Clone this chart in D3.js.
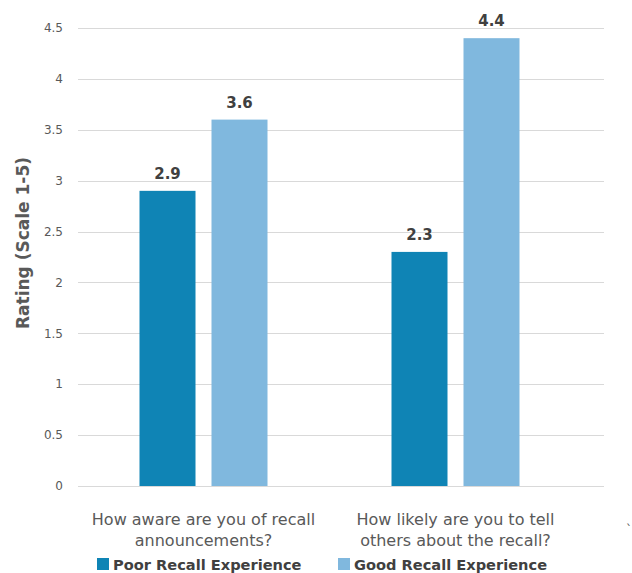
<!DOCTYPE html>
<html>
<head>
<meta charset="utf-8">
<script src="https://cdn.jsdelivr.net/npm/d3@7"></script>
<style>
  html, body { margin: 0; padding: 0; background: #ffffff; }
  svg { display: block; font-family: "DejaVu Sans", Verdana, sans-serif; }
</style>
</head>
<body>
<svg id="chart" width="632" height="573"></svg>
<script>
// Survey questions (two lines each)
const categories = [
  ["How aware are you of recall", "announcements?"],
  ["How likely are you to tell", "others about the recall?"]
];
const seriesNames = ["Poor Recall Experience", "Good Recall Experience"];
const poorValues = [2.9, 2.3];
const goodValues = [3.6, 4.4];
const yTicks = [0, 0.5, 1, 1.5, 2, 2.5, 3, 3.5, 4, 4.5];
const seriesColors = ["#0f84b5", "#80b8de"];

const svg = d3.select("#chart");

const plot = { left: 78, right: 604, top: 28, bottom: 486 };

const y = d3.scaleLinear().domain([0, 4.5]).range([plot.bottom, plot.top]);

const x0 = d3.scaleBand()
  .domain(d3.range(categories.length))
  .range([77.5, 581.5])
  .paddingInner(0)
  .paddingOuter(0);

const x1 = d3.scaleBand()
  .domain(d3.range(seriesNames.length))
  .range([0, 128])
  .paddingInner(16 / 72);

const groupOffset = (x0.bandwidth() - 128) / 2;

// Horizontal gridlines
svg.append("g")
  .selectAll("line")
  .data(yTicks)
  .join("line")
  .attr("x1", plot.left)
  .attr("x2", plot.right)
  .attr("y1", d => Math.round(y(d)) + 0.5)
  .attr("y2", d => Math.round(y(d)) + 0.5)
  .attr("stroke", "#d9d9d9")
  .attr("stroke-width", 1);

// Y axis tick labels
svg.append("g")
  .selectAll("text")
  .data(yTicks)
  .join("text")
  .attr("x", 63)
  .attr("y", d => y(d))
  .attr("dy", "0.35em")
  .attr("text-anchor", "end")
  .attr("font-size", 12)
  .attr("fill", "#595959")
  .text(d => d3.format("")(d));

// Y axis title
svg.append("text")
  .attr("transform", `translate(29, 243) rotate(-90)`)
  .attr("text-anchor", "middle")
  .attr("font-size", 17)
  .attr("font-weight", "bold")
  .attr("fill", "#595959")
  .text("Rating (Scale 1-5)");

// Bars grouped by question
const rows = categories.map((c, i) => ({ i, values: [poorValues[i], goodValues[i]] }));

const groups = svg.append("g")
  .selectAll("g")
  .data(rows)
  .join("g")
  .attr("transform", d => `translate(${x0(d.i) + groupOffset},0)`);

groups.selectAll("rect")
  .data(d => d.values.map((v, s) => ({ v, s })))
  .join("rect")
  .attr("x", d => x1(d.s))
  .attr("width", x1.bandwidth())
  .attr("y", d => y(d.v))
  .attr("height", d => y(0) - y(d.v))
  .attr("fill", d => seriesColors[d.s]);

// Value labels above bars
groups.selectAll("text.value")
  .data(d => d.values.map((v, s) => ({ v, s })))
  .join("text")
  .attr("class", "value")
  .attr("x", d => x1(d.s) + x1.bandwidth() / 2)
  .attr("y", d => y(d.v) - 12)
  .attr("text-anchor", "middle")
  .attr("font-size", 15)
  .attr("font-weight", "bold")
  .attr("fill", "#404040")
  .text(d => d3.format(".1f")(d.v));

// Category labels
const catLabels = svg.append("g")
  .selectAll("text")
  .data(categories)
  .join("text")
  .attr("x", (d, i) => x0(i) + x0.bandwidth() / 2)
  .attr("y", 525)
  .attr("text-anchor", "middle")
  .attr("font-size", 16)
  .attr("fill", "#595959");

catLabels.selectAll("tspan")
  .data(d => d)
  .join("tspan")
  .attr("x", function () { return this.parentNode.getAttribute("x"); })
  .attr("dy", (d, j) => j === 0 ? 0 : 21)
  .text(d => d);

// Legend
const legendX = [97, 338];
const legend = svg.append("g")
  .selectAll("g")
  .data(seriesNames)
  .join("g")
  .attr("transform", (d, i) => `translate(${legendX[i]}, 570)`);

legend.append("rect")
  .attr("x", 0)
  .attr("y", -12)
  .attr("width", 12)
  .attr("height", 12)
  .attr("fill", (d, i) => seriesColors[i]);

legend.append("text")
  .attr("x", 16)
  .attr("y", 0)
  .attr("font-size", 14.6)
  .attr("font-weight", "bold")
  .attr("fill", "#404040")
  .text(d => d);

// Small stray tick near bottom right
svg.append("text")
  .attr("x", 626)
  .attr("y", 534)
  .attr("font-size", 12)
  .attr("fill", "#595959")
  .text("`");
</script>
</body>
</html>
